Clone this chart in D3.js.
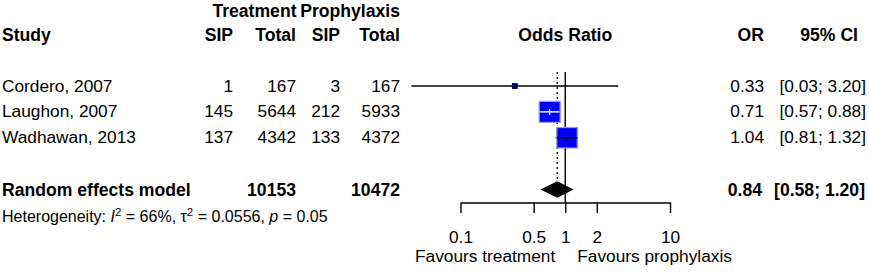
<!DOCTYPE html>
<html>
<head>
<meta charset="utf-8">
<script src="https://cdn.jsdelivr.net/npm/d3@7"></script>
<style>
body { margin:0; background:#fff; }
svg text { font-family:"Liberation Sans", Arial, sans-serif; }
</style>
</head>
<body>
<svg id="forest"></svg>
<script>
// data
var studies = ["Cordero, 2007", "Laughon, 2007", "Wadhawan, 2013"];
var treatSIP = [1, 145, 137];
var treatTotal = [167, 5644, 4342];
var prophSIP = [3, 212, 133];
var prophTotal = [167, 5933, 4372];
var oddsRatio = [0.33, 0.71, 1.04];
var ciLow = [0.034, 0.57, 0.81];
var ciHigh = [3.20, 0.88, 1.32];
var weights = [2.4, 50.0, 47.6];

var pooledLabel = "Random effects model";
var pooledTotals = [10153, 10472];
var pooledOR = 0.84;
var pooledLow = 0.58;
var pooledHigh = 1.20;

var tickValues = [0.1, 0.5, 1, 2, 10];
var tickLabels = ["0.1", "0.5", "1", "2", "10"];

var width = 869;
var height = 274;
var fs = 17.3;   // regular text
var fsB = 17.6;  // bold text

var svg = d3.select("#forest")
	.attr("width", width)
	.attr("height", height)
	.attr("viewBox", [0, 0, width, height]);

// scales
var xScale = d3.scaleLog().domain([0.1, 10]).range([460.5, 670]);
var yScale = d3.scaleLinear().domain([0, 4]).range([86, 189.5]);
var boxSize = d3.scaleSqrt().domain([0, 50]).range([0, 21]);

var rows = studies.map(function(s, i){
	return {
		study: s, tSIP: treatSIP[i], tTot: treatTotal[i], pSIP: prophSIP[i], pTot: prophTotal[i],
		or: oddsRatio[i], lo: ciLow[i], hi: ciHigh[i], w: weights[i], row: i
	};
});

function addText(x, y, str, anchor, bold, size){
	return svg.append("text")
		.attr("x", x)
		.attr("y", y)
		.attr("text-anchor", anchor)
		.attr("font-weight", bold ? "bold" : "normal")
		.attr("font-size", (size || (bold ? fsB : fs)) + "px")
		.attr("fill", "black")
		.text(str);
}

// headers
addText(296.5, 17, "Treatment", "end", true);
addText(400, 17, "Prophylaxis", "end", true);
addText(2, 41, "Study", "start", true);
addText(233, 41, "SIP", "end", true);
addText(296, 41, "Total", "end", true);
addText(340, 41, "SIP", "end", true);
addText(400, 41, "Total", "end", true);
addText(xScale(1), 41, "Odds Ratio", "middle", true);
addText(764, 41, "OR", "end", true);
addText(858, 41, "95% CI", "end", true);

// study rows text
rows.forEach(function(d){
	var ty = yScale(d.row) + 5.5;
	addText(2, ty, d.study, "start", false);
	addText(233, ty, d.tSIP, "end", false);
	addText(296, ty, d.tTot, "end", false);
	addText(340, ty, d.pSIP, "end", false);
	addText(400, ty, d.pTot, "end", false);
	addText(764, ty, d.or.toFixed(2), "end", false);
	addText(866, ty, "[" + d.lo.toFixed(2) + "; " + d.hi.toFixed(2) + "]", "end", false);
});

// pooled row text
var py = yScale(4);
addText(2, py + 6.5, pooledLabel, "start", true);
addText(296, py + 6.5, pooledTotals[0], "end", true);
addText(400, py + 6.5, pooledTotals[1], "end", true);
addText(762, py + 6.5, pooledOR.toFixed(2), "end", true);
addText(865, py + 6.5, "[" + pooledLow.toFixed(2) + "; " + pooledHigh.toFixed(2) + "]", "end", true);

// heterogeneity line
var het = svg.append("text")
	.attr("x", 2)
	.attr("y", 222)
	.attr("font-size", "16px")
	.attr("fill", "black");
het.append("tspan").text("Heterogeneity: ");
het.append("tspan").attr("font-style", "italic").text("I");
het.append("tspan").attr("font-size", "11.5px").attr("dy", -6.5).text("2");
het.append("tspan").attr("dy", 6.5).text(" = 66%, \u03c4");
het.append("tspan").attr("font-size", "11.5px").attr("dy", -6.5).text("2");
het.append("tspan").attr("dy", 6.5).text(" = 0.0556, ");
het.append("tspan").attr("font-style", "italic").text("p");
het.append("tspan").text(" = 0.05");

// reference line at 1 and dotted line at pooled estimate
var axisY = 202.5;
svg.append("line")
	.attr("x1", xScale(1)).attr("x2", xScale(1))
	.attr("y1", 72).attr("y2", axisY)
	.attr("stroke", "black").attr("stroke-width", 1.4);
svg.append("line")
	.attr("x1", xScale(pooledOR)).attr("x2", xScale(pooledOR))
	.attr("y1", 72).attr("y2", py - 8)
	.attr("stroke", "black").attr("stroke-width", 1.4)
	.attr("stroke-dasharray", "2,3");

// CI lines
var marks = svg.append("g").attr("id", "marks");
marks.selectAll(".ci")
	.data(rows)
	.enter()
	.append("line")
	.attr("class", "ci")
	.attr("x1", d => xScale(d.lo))
	.attr("x2", d => xScale(d.hi))
	.attr("y1", d => yScale(d.row))
	.attr("y2", d => yScale(d.row))
	.attr("stroke", "black")
	.attr("stroke-width", 1.4);

// boxes sized by weight
marks.selectAll(".box")
	.data(rows)
	.enter()
	.append("rect")
	.attr("class", "box")
	.attr("x", d => xScale(d.or) - boxSize(d.w) / 2)
	.attr("y", d => yScale(d.row) - boxSize(d.w) / 2)
	.attr("width", d => boxSize(d.w))
	.attr("height", d => boxSize(d.w))
	.attr("fill", function(d){ return d.w < 10 ? "#000060" : "#0000f5"; })
	.attr("stroke", function(d){ return d.w < 10 ? "#000050" : "#9a9ae8"; })
	.attr("stroke-width", 1.2);

// line inside box: white when the CI fits inside the box
function insideCol(d){
	var half = boxSize(d.w) / 2;
	var cx = xScale(d.or);
	return (xScale(d.lo) >= cx - half && xScale(d.hi) <= cx + half) ? "white" : "black";
}
rows.forEach(function(d){
	var half = boxSize(d.w) / 2;
	var cx = xScale(d.or);
	var cy = yScale(d.row);
	if (half < 4) return;
	marks.append("line")
		.attr("x1", Math.max(xScale(d.lo), cx - half)).attr("x2", Math.min(xScale(d.hi), cx + half))
		.attr("y1", cy).attr("y2", cy)
		.attr("stroke", insideCol(d)).attr("stroke-width", 1.4);
	marks.append("line")
		.attr("x1", cx).attr("x2", cx)
		.attr("y1", cy - 3).attr("y2", cy + 3)
		.attr("stroke", insideCol(d)).attr("stroke-width", 1.2);
});

// pooled diamond
svg.append("path")
	.attr("d", "M" + xScale(pooledLow) + "," + py +
		"L" + xScale(pooledOR) + "," + (py - 8.3) +
		"L" + xScale(pooledHigh) + "," + py +
		"L" + xScale(pooledOR) + "," + (py + 8.3) + "Z")
	.attr("fill", "black");

// x axis
var xAxis = d3.axisBottom(xScale)
	.tickValues(tickValues)
	.tickFormat(function(d, i){ return tickLabels[i]; })
	.tickSize(10.5)
	.tickSizeOuter(0)
	.tickPadding(17.5);
var gx = svg.append("g")
	.attr("transform", "translate(0," + axisY + ")")
	.call(xAxis);
gx.select(".domain").attr("stroke-width", 1.4);
gx.selectAll(".tick line").attr("stroke-width", 1.4);
gx.selectAll(".tick text")
	.attr("font-size", fs + "px")
	.attr("font-family", "Liberation Sans, Arial, sans-serif")
	.attr("fill", "black");

// favours labels
addText(xScale(1) - 10, 262, "Favours treatment", "end", false);
addText(xScale(1) + 12, 262, "Favours prophylaxis", "start", false);
</script>
</body>
</html>
